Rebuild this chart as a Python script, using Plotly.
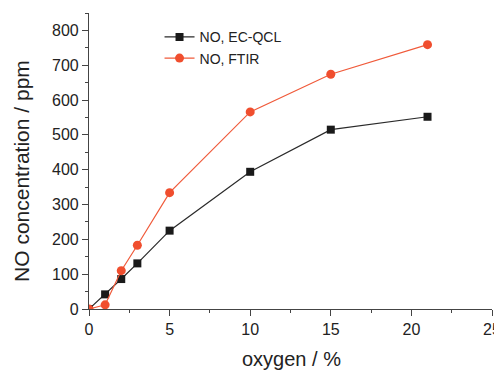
import plotly.graph_objects as go

oxygen = [0, 1, 2, 3, 5, 10, 15, 21]
no_ecqcl = [0, 42, 86, 131, 225, 394, 515, 552]
no_ftir = [0, 12, 110, 183, 334, 566, 674, 759]

x_title = "oxygen / %"
y_title = "NO concentration / ppm"

fig = go.Figure()
fig.add_trace(go.Scatter(x=oxygen, y=no_ecqcl, mode="lines+markers", name="NO, EC-QCL",
                         line=dict(color="#2a2a2a", width=1.2),
                         marker=dict(symbol="square", size=8, color="#1a1a1a")))
fig.add_trace(go.Scatter(x=oxygen, y=no_ftir, mode="lines+markers", name="NO, FTIR",
                         line=dict(color="#f05a3a", width=1.2),
                         marker=dict(symbol="circle", size=9, color="#f04e2e")))

font_family = "Liberation Sans, Arial"
axis_common = dict(showline=True, linecolor="#444", linewidth=1.2, ticks="outside",
                   ticklen=6, tickcolor="#444", tickwidth=1.2, showgrid=False, zeroline=False,
                   automargin=False,
                   tickfont=dict(family=font_family, size=16, color="#222"))
fig.update_xaxes(range=[0, 25], tickvals=[0, 5, 10, 15, 20, 25],
                 minor=dict(ticks="outside", ticklen=3, tickcolor="#444", dtick=2.5, tick0=0),
                 **axis_common)
fig.update_yaxes(range=[0, 850], tickvals=[0, 100, 200, 300, 400, 500, 600, 700, 800],
                 minor=dict(ticks="outside", ticklen=3, tickcolor="#444", dtick=50, tick0=0),
                 **axis_common)

fig.add_annotation(text=x_title, xref="paper", yref="paper", x=0.503, y=-0.168,
                   xanchor="center", yanchor="middle", showarrow=False,
                   font=dict(family=font_family, size=20, color="#222"))
fig.add_annotation(text=y_title, xref="paper", yref="paper", x=-0.169, y=0.466,
                   xanchor="center", yanchor="middle", showarrow=False, textangle=-90,
                   font=dict(family=font_family, size=21, color="#222"))

# page body has an 8px margin, so the figure is sized to fit inside the window
fig.update_layout(width=494, height=363, margin=dict(l=81, r=10, t=5, b=62),
                  plot_bgcolor="white", paper_bgcolor="white",
                  legend=dict(x=0.175, y=0.972, xanchor="left", yanchor="top", bgcolor="rgba(0,0,0,0)",
                              font=dict(family=font_family, size=14, color="#222"),
                              tracegroupgap=0, itemwidth=30))
fig.write_html("out.html")
